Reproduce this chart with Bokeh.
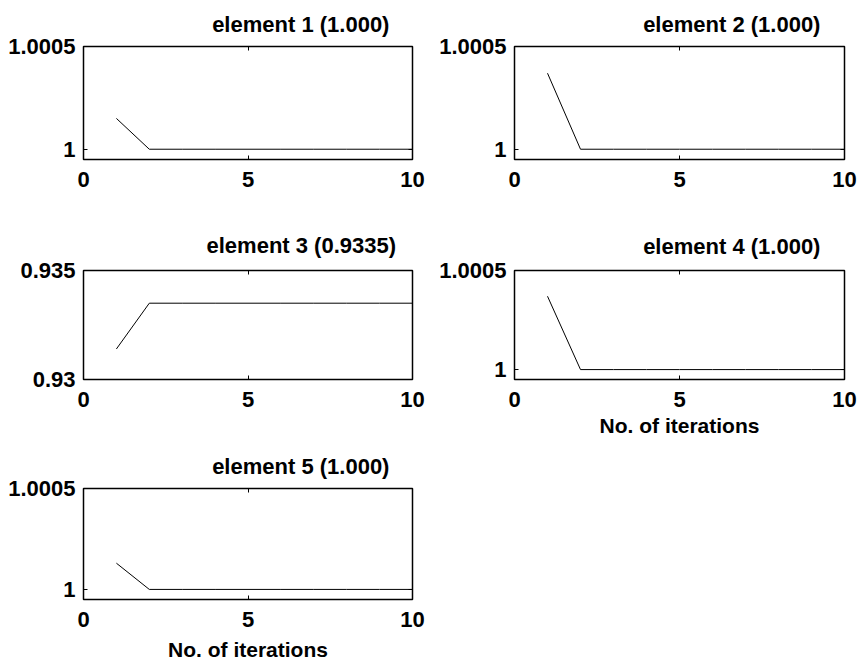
from bokeh.plotting import figure
from bokeh.layouts import gridplot
from bokeh.models import (FixedTicker, CustomJSTickFormatter, LinearAxis, Range1d,
                          CustomLabelingPolicy)
from bokeh.embed import file_html
from bokeh.resources import INLINE

# Convergence of each element over the iterations
iterations = [1, 2, 3, 4, 5, 6, 7, 8, 9, 10]
element_1 = [1.00015, 1.0, 1.0, 1.0, 1.0, 1.0, 1.0, 1.0, 1.0, 1.0]
element_2 = [1.00037, 1.0, 1.0, 1.0, 1.0, 1.0, 1.0, 1.0, 1.0, 1.0]
element_3 = [0.9314, 0.9335, 0.9335, 0.9335, 0.9335, 0.9335, 0.9335, 0.9335, 0.9335, 0.9335]
element_4 = [1.00037, 1.0, 1.0, 1.0, 1.0, 1.0, 1.0, 1.0, 1.0, 1.0]
element_5 = [1.00013, 1.0, 1.0, 1.0, 1.0, 1.0, 1.0, 1.0, 1.0, 1.0]

titles = ["element 1 (1.000)", "element 2 (1.000)", "element 3 (0.9335)",
          "element 4 (1.000)", "element 5 (1.000)"]

x_ticks = [0, 5, 10]
ticks_near_one = [1, 1.0005]
ticks_element_3 = [0.93, 0.935]
range_near_one = (0.99995, 1.0005)
range_element_3 = (0.93, 0.935)
x_label = "No. of iterations"

FONT = "Liberation Sans"
fmt = CustomJSTickFormatter(code="return String(tick)")
# box axes on the top/right only carry tick marks, never labels
no_labels = CustomLabelingPolicy(code="return;")


def style_axis(ax, ticks, hidden_labels=False):
    ax.ticker = FixedTicker(ticks=ticks)
    ax.formatter = fmt
    ax.major_tick_in = 4
    ax.major_tick_out = 0
    ax.minor_tick_in = 0
    ax.minor_tick_out = 0
    ax.axis_line_color = None
    ax.major_tick_line_color = "black"
    ax.major_tick_line_width = 1
    ax.major_label_text_font = FONT
    ax.major_label_text_font_style = "bold"
    ax.major_label_text_color = "black"
    if hidden_labels:
        ax.major_label_policy = no_labels
        ax.major_label_text_font_size = "0px"
        ax.major_label_standoff = 0
    else:
        ax.major_label_text_font_size = "22px"


def panel(values, title, y_rng, y_ticks, width, height, borders, title_standoff,
          xlabel_standoff=None):
    left, right, top, bottom = borders
    p = figure(width=width, height=height, output_backend="svg",
               toolbar_location=None, x_range=Range1d(0, 10),
               y_range=Range1d(*y_rng),
               min_border_left=left, min_border_right=right,
               min_border_top=top, min_border_bottom=bottom)
    p.xgrid.grid_line_color = None
    p.ygrid.grid_line_color = None
    p.outline_line_color = "black"
    p.outline_line_width = 1.5
    p.background_fill_color = "white"
    p.border_fill_color = "white"

    xb = p.xaxis[0]
    yl = p.yaxis[0]
    style_axis(xb, x_ticks)
    xb.major_label_standoff = 12
    style_axis(yl, y_ticks)
    yl.major_label_standoff = 8

    top_ax = LinearAxis()
    style_axis(top_ax, x_ticks, hidden_labels=True)
    p.add_layout(top_ax, "above")
    right_ax = LinearAxis()
    style_axis(right_ax, y_ticks, hidden_labels=True)
    p.add_layout(right_ax, "right")

    if xlabel_standoff is not None:
        xb.axis_label = x_label
        xb.axis_label_text_font = FONT
        xb.axis_label_text_font_style = "bold"
        xb.axis_label_text_font_size = "21px"
        xb.axis_label_text_color = "black"
        xb.axis_label_standoff = xlabel_standoff

    # title centred about 224 px right of the frame's left edge
    title_width = 0.51 * 22 * len(title)
    p.title.text = title
    p.title.align = "left"
    p.title.offset = 224 - title_width / 2
    p.title.text_font = FONT
    p.title.text_font_style = "bold"
    p.title.text_font_size = "22px"
    p.title.text_color = "black"
    p.title.standoff = title_standoff

    p.line(iterations, values, line_color="black", line_width=1)
    return p


p1 = panel(element_1, titles[0], range_near_one, ticks_near_one, 430, 210, (83, 18, 46, 51), 19)
p2 = panel(element_2, titles[1], range_near_one, ticks_near_one, 428, 210, (84, 14, 46, 51), 19)
p3 = panel(element_3, titles[2], range_element_3, ticks_element_3, 430, 232, (83, 18, 60, 61), 26)
p4 = panel(element_4, titles[3], range_near_one, ticks_near_one, 428, 232, (84, 14, 58, 63), 24, 4)
p5 = panel(element_5, titles[4], range_near_one, ticks_near_one, 430, 221, (83, 18, 46, 64), 19, 8)

grid = gridplot([[p1, p2], [p3, p4], [p5, None]], toolbar_location=None)

open("out.html", "w").write(file_html(grid, INLINE))
